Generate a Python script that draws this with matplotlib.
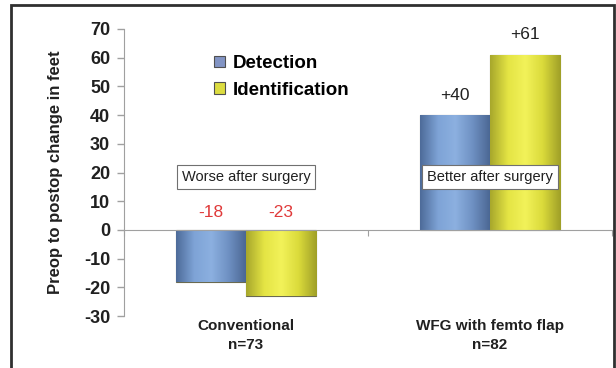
import numpy as np
import matplotlib.pyplot as plt
from matplotlib.colors import LinearSegmentedColormap
from matplotlib.patches import Rectangle
import matplotlib.transforms as mtransforms

plt.rcParams['font.family'] = ['Liberation Sans', 'DejaVu Sans']

# data
groups = ['Conventional\nn=73', 'WFG with femto flap\nn=82']
series = ['Detection', 'Identification']
detection = [-18, 40]
identification = [-23, 61]
value_labels = [['-18', '+40'], ['-23', '+61']]
notes = ['Worse after surgery', 'Better after surgery']
yticks = list(range(-30, 71, 10))

fig = plt.figure(figsize=(6.16, 3.68), dpi=100)
ax = fig.add_axes([0.2013, 0.1413, 0.7922, 0.7799])

# outer frame of the slide
fig.patches.append(Rectangle((0.018, -0.05), 0.979, 1.036, transform=fig.transFigure,
                             fill=False, edgecolor='#303030', linewidth=2))

base_colors = ['#7194C8', '#E6E63C']
shades = [
    LinearSegmentedColormap.from_list('b', ['#4E6C9A', '#7EA3D6', '#8CB0E0', '#6E90C2', '#4A6692']),
    LinearSegmentedColormap.from_list('y', ['#A8A82C', '#E4E444', '#F2F25A', '#DADA3A', '#A0A028']),
]

x = np.arange(len(groups))
width = 0.287
grad = np.linspace(0, 1, 64).reshape(1, -1)

for k, vals in enumerate([detection, identification]):
    offs = (k - 0.5) * width
    bars = ax.bar(x + offs, vals, width, color=base_colors[k], edgecolor='#6A6A50',
                  linewidth=0.8, label=series[k], zorder=2)
    for b in bars:
        x0 = b.get_x()
        y0, y1 = sorted([0, b.get_height()])
        im = ax.imshow(grad, cmap=shades[k], extent=[x0, x0 + width, y0, y1],
                       aspect='auto', interpolation='bicubic', zorder=2.5)
        im.set_clip_path(b)
    for i, v in enumerate(vals):
        if v < 0:
            ax.text(x[i] + offs, 6, value_labels[k][i], ha='center', va='center',
                    color='#E03A3A', fontsize=12.5)
        else:
            ax.text(x[i] + offs, v + 7, value_labels[k][i], ha='center', va='center',
                    color='#202020', fontsize=12.5)

# annotation boxes
for i, note in enumerate(notes):
    ax.text(x[i], 18.5, note, ha='center', va='center', fontsize=10.5,
            color='#202020', zorder=4,
            bbox=dict(boxstyle='square,pad=0.35', facecolor='white', edgecolor='#707070', linewidth=0.8))

ax.set_xlim(-0.5, 1.5)
ax.set_ylim(-30, 70)
ax.set_yticks(yticks)
ax.set_yticklabels([str(t) for t in yticks], fontsize=13, fontweight='bold', color='#202020')
ax.tick_params(axis='y', length=5, color='#A0A0A0', width=1, pad=5)

# zero line with small ticks at group boundaries
ax.spines['bottom'].set_position(('data', 0))
ax.spines['bottom'].set_color('#A0A0A0')
ax.set_xticks([-0.5, 0.5, 1.5])
ax.set_xticklabels([])
ax.tick_params(axis='x', length=4, color='#A0A0A0', direction='out')
for s in ['top', 'right']:
    ax.spines[s].set_visible(False)
ax.spines['left'].set_color('#A0A0A0')

trans = mtransforms.blended_transform_factory(ax.transData, ax.transAxes)
for i, g in enumerate(groups):
    ax.text(x[i], -0.012, g, transform=trans, ha='center', va='top', fontsize=11,
            fontweight='bold', color='#202020', linespacing=1.45)

ax.set_ylabel('Preop to postop change in feet', fontsize=12, fontweight='bold', color='#202020',
              labelpad=15)

leg = ax.legend(loc='upper left', bbox_to_anchor=(0.32, 0.896), bbox_transform=fig.transFigure,
                frameon=False, handlelength=0.6, handleheight=0.6, handletextpad=0.4,
                labelspacing=0.5, prop={'size': 13.5, 'weight': 'bold'})
for h, c in zip(leg.legend_handles, ['#8294C4', '#DCDC40']):
    h.set_facecolor(c)
    h.set_edgecolor('#505050')

fig.savefig('out.png', dpi=100)
